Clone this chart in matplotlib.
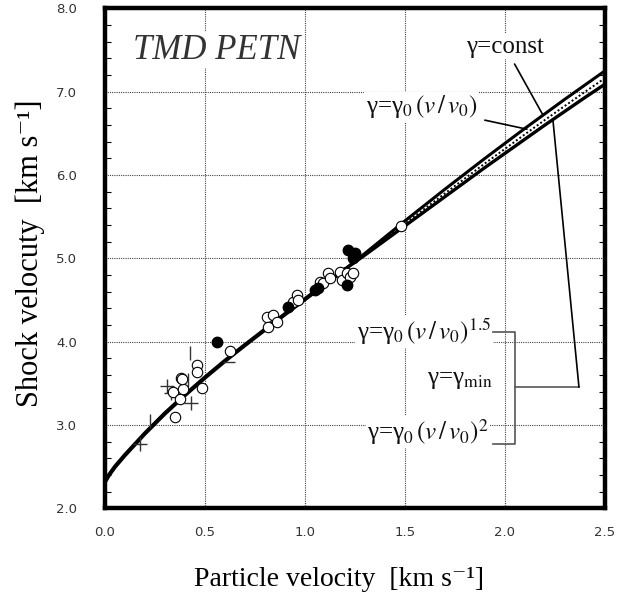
import matplotlib
matplotlib.use("Agg")
import matplotlib.pyplot as plt
from matplotlib.ticker import MultipleLocator

plt.rcParams['font.family'] = ['Liberation Serif', 'DejaVu Serif']
plt.rcParams['mathtext.fontset'] = 'stix'

# --- data ---
# measured points (particle velocity, shock velocity)
open_up = [0.35, 0.342, 0.375, 0.39, 0.378, 0.383, 0.458, 0.458, 0.483, 0.625,
           0.808, 0.842, 0.858, 0.817, 0.942, 0.958, 0.967,
           1.075, 1.092, 1.117, 1.125, 1.175, 1.183, 1.208, 1.225, 1.242, 1.478]
open_us = [3.10, 3.40, 3.31, 3.43, 3.56, 3.55, 3.72, 3.64, 3.45, 3.89,
           4.30, 4.32, 4.24, 4.18, 4.48, 4.56, 4.50,
           4.72, 4.70, 4.83, 4.76, 4.84, 4.74, 4.83, 4.78, 4.83, 5.39]
filled_up = [0.558, 0.917, 1.067, 1.05, 1.208, 1.217, 1.25, 1.242]
filled_us = [4.00, 4.42, 4.64, 4.62, 4.68, 5.10, 5.07, 5.00]
plus_up = [0.175, 0.31, 0.33, 0.43]
plus_us = [2.77, 3.47, 3.39, 3.27]
vbar_up = [0.225, 0.425, 0.415]
vbar_us = [3.05, 3.87, 3.54]
hbar_up = [0.62]
hbar_us = [3.76]

# common part of the calculated Hugoniot
u_common = [0.0, 0.02, 0.05, 0.1, 0.15, 0.2, 0.3, 0.4, 0.5, 0.6, 0.7, 0.8, 0.9, 1.0, 1.1, 1.2]
us_common = [2.32, 2.40, 2.50, 2.64, 2.77, 2.90, 3.14, 3.36, 3.57, 3.77, 3.96, 4.145, 4.33, 4.51, 4.69, 4.87]

# branches at high particle velocity
u_branch = [1.2, 1.3, 1.4, 1.5, 1.6, 1.7, 1.8, 1.9, 2.0, 2.1, 2.2, 2.3, 2.4, 2.5]
us_const = [4.87, 5.06, 5.255, 5.45, 5.64, 5.83, 6.015, 6.20, 6.38, 6.56, 6.735, 6.91, 7.08, 7.25]
us_lin = [4.87, 5.049, 5.233, 5.417, 5.599, 5.78, 5.96, 6.14, 6.314, 6.489, 6.661, 6.83, 6.998, 7.162]
us_pow = [4.87, 5.04, 5.215, 5.39, 5.565, 5.74, 5.915, 6.09, 6.26, 6.43, 6.60, 6.765, 6.93, 7.09]

fig = plt.figure(figsize=(6.23, 5.96), dpi=100)
ax = fig.add_axes([0.1685, 0.147, 0.8025, 0.839])

ax.set_xlim(0, 2.5)
ax.set_ylim(2.0, 8.0)
ax.xaxis.set_major_locator(MultipleLocator(0.5))
ax.yaxis.set_major_locator(MultipleLocator(1.0))
ax.yaxis.set_minor_locator(MultipleLocator(0.2))
ax.xaxis.set_major_formatter(plt.FormatStrFormatter('%.1f'))
ax.yaxis.set_major_formatter(plt.FormatStrFormatter('%.1f'))
ax.tick_params(which='major', length=0, labelsize=9.5, labelcolor='#333333')
ax.tick_params(axis='x', pad=13)
ax.tick_params(axis='y', pad=20)
ax.tick_params(which='minor', axis='y', direction='in', length=4, width=0.8,
               left=True, right=True)
for lab in ax.get_xticklabels() + ax.get_yticklabels():
    lab.set_family('DejaVu Sans')

ax.grid(True, which='major', linestyle=(0, (1, 1)), color='#444444', linewidth=0.8)
for s in ax.spines.values():
    s.set_linewidth(3.2)

# curves
ax.plot(u_common, us_common, color='black', lw=3.0, solid_capstyle='round', zorder=3)
ax.plot(u_branch, us_const, color='black', lw=2.2, zorder=3)
ax.plot(u_branch, us_pow, color='black', lw=2.4, zorder=3)
ax.plot(u_branch, us_lin, color='black', lw=1.4, linestyle=(0, (1, 1.2)), zorder=3)

# points
ax.plot(plus_up, plus_us, '+', color='#333333', ms=10, mew=1.0, zorder=4)
ax.plot(vbar_up, vbar_us, '|', color='#333333', ms=10, mew=1.0, zorder=4)
ax.plot(hbar_up, hbar_us, '_', color='#333333', ms=8, mew=1.0, zorder=4)
ax.plot(open_up, open_us, 'o', mfc='white', mec='black', ms=7.5, mew=0.8, zorder=5)
ax.plot(filled_up, filled_us, 'o', color='black', ms=7.5, zorder=5)

white = dict(facecolor='white', edgecolor='none', pad=1)

ax.text(0.56, 7.50, 'TMD PETN', fontsize=25, style='italic', ha='center', va='center',
        color='#333333', bbox=white, zorder=2)

# labels for the model curves
lab_kw = dict(fontsize=18, ha='center', va='center', bbox=white, color='#111111')
ax.annotate('γ=const', xy=(2.19, 6.72), xytext=(2.0, 7.54), **lab_kw,
            arrowprops=dict(arrowstyle='-', color='black', lw=1.2, shrinkA=4, shrinkB=0))
ax.annotate(r'γ=γ$_{0}\,(v\,/\,v_{0})$', xy=(2.11, 6.55), xytext=(1.585, 6.82), **lab_kw,
            arrowprops=dict(arrowstyle='-', color='black', lw=1.2, shrinkA=4, shrinkB=0))
ax.text(1.595, 4.12, r'γ=γ$_{0}\,(v\,/\,v_{0})^{1.5}$', zorder=2, **lab_kw)
ax.text(1.775, 3.54, r'γ=γ$_{\mathrm{min}}$', zorder=2, **lab_kw)
ax.text(1.615, 2.92, r'γ=γ$_{0}\,(v\,/\,v_{0})^{2}$', zorder=2, **lab_kw)

# bracket grouping the three lower curves
bx = [1.94, 2.05, 2.05, 1.94]
by = [4.117, 4.117, 2.772, 2.772]
ax.plot(bx, by, color='#555555', lw=1.2, zorder=3)
ax.plot([2.05, 2.37], [3.458, 3.458], color='#555555', lw=1.2, zorder=3)
ax.plot([2.37, 2.24], [3.458, 6.66], color='black', lw=1.2, zorder=3)

ax.set_xlabel('Particle velocity  [km s⁻¹]', fontsize=20, va='top')
ax.xaxis.set_label_coords(0.468, -0.117)
ax.set_ylabel('Shock velocuty  [km s⁻¹]', fontsize=22)
ax.yaxis.set_label_coords(-0.12, 0.51)

fig.savefig('out.png', dpi=100)
